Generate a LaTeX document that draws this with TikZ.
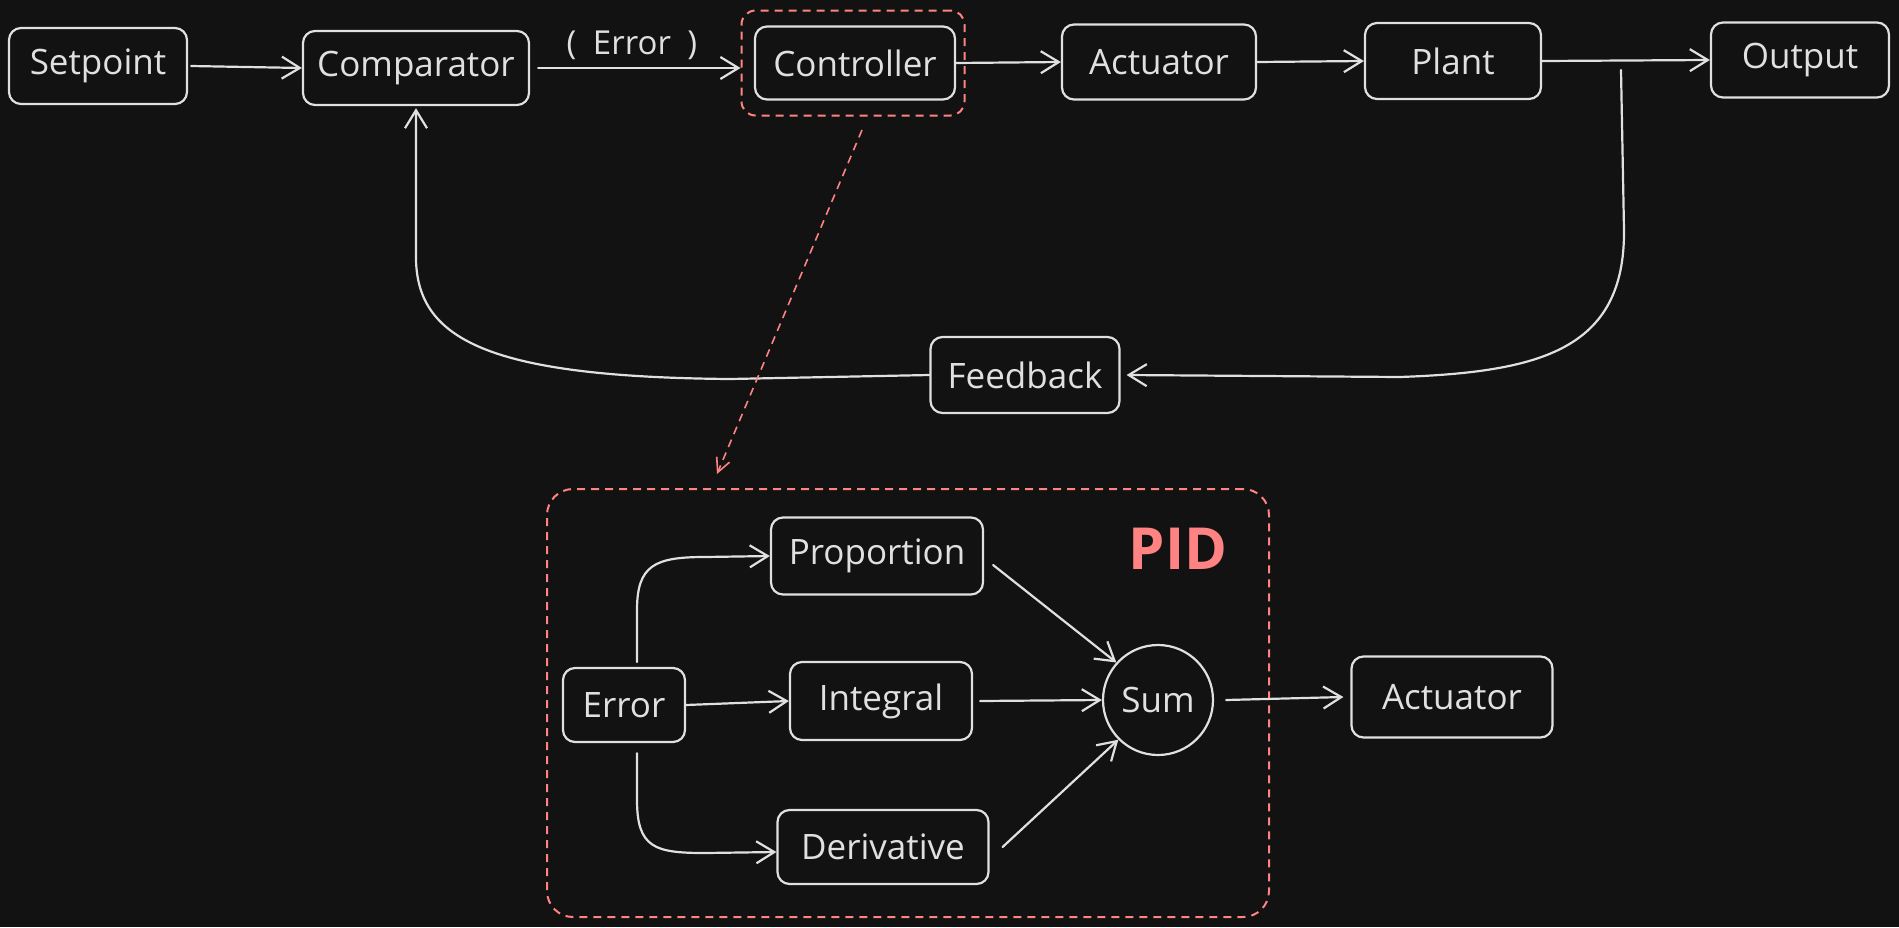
\documentclass[tikz,border=0pt]{standalone}
\usepackage{fontspec}
\setmainfont{Open Sans}
\usetikzlibrary{arrows.meta}
\definecolor{bg}{HTML}{121212}
\definecolor{ink}{HTML}{E0E0E0}
\definecolor{pidred}{HTML}{FF8383}
\begin{document}
\begin{tikzpicture}[x=1pt,y=-1pt,
  box/.style={draw=ink, line width=2.2pt, rounded corners=12pt, fill=bg, text=ink,
    inner sep=0pt, font=\fontsize{35}{41}\selectfont},
  grp/.style={draw=pidred, line width=2pt, dash pattern=on 8pt off 6pt, inner sep=0pt},
  conn/.style={draw=ink, line width=2.2pt, line cap=round,
    -{Straight Barb[length=18pt,width=22pt,line width=2.2pt]}},
  redconn/.style={draw=pidred, line width=1.6pt, dash pattern=on 8pt off 6pt,
    -{Straight Barb[length=14pt,width=14pt,line width=1.6pt]}},
  lbl/.style={text=ink, inner sep=0pt, font=\fontsize{33}{39}\selectfont}]
\fill[bg] (0,0) rectangle (1899,927);
\useasboundingbox (0,0) rectangle (1899,927);

% group frames
\node[grp, rounded corners=14pt, minimum width=223pt, minimum height=105pt] (ctrlbox) at (853,63) {};
\node[grp, rounded corners=26pt, minimum width=722pt, minimum height=428pt] (pidbox) at (908,703) {};

% top row
\node[box, minimum width=178pt, minimum height=76pt] (set) at (98,66) {Setpoint};
\node[box, minimum width=226pt, minimum height=74pt] (comp) at (416,68) {Comparator};
\node[box, minimum width=200pt, minimum height=73pt] (ctrl) at (855,63) {Controller};
\node[box, minimum width=194pt, minimum height=75pt] (act) at (1159,62) {Actuator};
\node[box, minimum width=176pt, minimum height=76pt] (plant) at (1453,61) {Plant};
\node[box, minimum width=178pt, minimum height=75pt] (out) at (1800,60) {Output};
\node[box, minimum width=189pt, minimum height=76pt] (fb) at (1025,375) {Feedback};

\node[lbl] (errlbl) at (632,45) {(\hspace{0.5em}Error\hspace{0.5em})};

% PID detail
\node[box, minimum width=212pt, minimum height=77pt] (prop) at (877,556) {Proportion};
\node[box, minimum width=122pt, minimum height=74pt] (err) at (624,705) {Error};
\node[box, minimum width=182pt, minimum height=78pt] (integ) at (881,701) {Integral};
\node[box, minimum width=211pt, minimum height=74pt] (der) at (883,847) {Derivative};
\node[box, circle, sharp corners, minimum size=110pt] (sum) at (1158,700) {Sum};
\node[box, minimum width=201pt, minimum height=81pt] (act2) at (1452,697) {Actuator};
\node[text=pidred, inner sep=0pt, font=\bfseries\fontsize{58}{64}\selectfont] (pid) at (1178,549) {PID};

% top connectors
\draw[conn] ([xshift=3pt]set.east) -- (comp.west);
\draw[conn] ([xshift=8pt]comp.east) -- (ctrlbox.west |- comp.east);
\draw[conn] (ctrl.east) -- (act.west);
\draw[conn] (act.east) -- (plant.west);
\draw[conn] (plant.east) -- (out.west);

% feedback loop
\coordinate (tap) at (1621,70);
\draw[conn] (tap) -- (1624,230) .. controls (1625,350) and (1540,372) .. (1400,377) -- ([xshift=6pt]fb.east);
\draw[conn] (fb.west) -- (730,379) .. controls (490,377) and (418,340) .. (416,260) -- ([yshift=-2pt]comp.south);

% zoom arrow
\coordinate (r1) at (862,130);
\coordinate (r2) at (717,474);
\draw[redconn] (r1) -- (r2);

% PID connectors
\draw[conn] ([xshift=13pt,yshift=5pt]err.north) -- (637,610) .. controls (637,565) and (655,557) .. (705,557) -- (prop.west);
\draw[conn] ([xshift=13pt,yshift=-10pt]err.south) -- (637,800) .. controls (637,848) and (655,853) .. (705,853) -- ([yshift=-5pt]der.west);
\draw[conn] (err.east) -- (integ.west);
\draw[conn] ([shift={(9pt,-9pt)}]prop.east) -- (sum.138);
\draw[conn] ([xshift=7pt]integ.east) -- (sum.west);
\draw[conn] ([xshift=13pt]der.east) -- (sum.225);
\draw[conn] ([xshift=12pt]sum.east) -- ([xshift=-7pt]act2.west);
\end{tikzpicture}
\end{document}
